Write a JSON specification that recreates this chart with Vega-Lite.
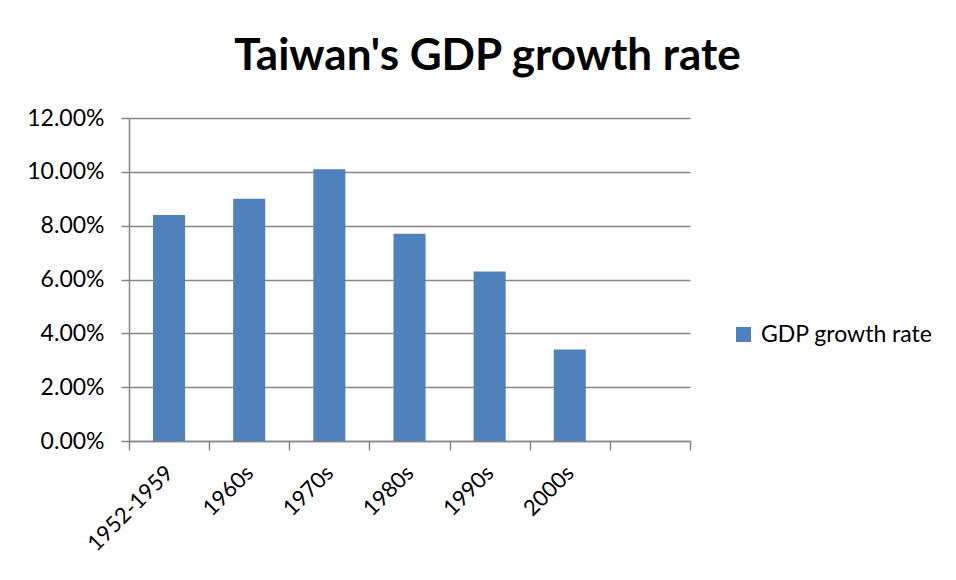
{
  "$schema": "https://vega.github.io/schema/vega-lite/v6.json",
  "width": 561,
  "height": 323,
  "autosize": "none",
  "padding": {"left": 129, "top": 118, "right": 266, "bottom": 139},
  "background": "white",
  "title": {
    "text": "Taiwan's GDP growth rate",
    "font": "Lato",
    "fontSize": 44,
    "fontWeight": "bold",
    "color": "black",
    "anchor": "middle",
    "frame": "group",
    "dx": 78,
    "offset": 28
  },
  "data": {
    "values": [
      {"period": "1952-1959", "rate": 0.084, "series": "GDP growth rate"},
      {"period": "1960s", "rate": 0.090, "series": "GDP growth rate"},
      {"period": "1970s", "rate": 0.101, "series": "GDP growth rate"},
      {"period": "1980s", "rate": 0.077, "series": "GDP growth rate"},
      {"period": "1990s", "rate": 0.063, "series": "GDP growth rate"},
      {"period": "2000s", "rate": 0.034, "series": "GDP growth rate"}
    ]
  },
  "mark": {"type": "bar", "width": {"band": 0.4}},
  "encoding": {
    "x": {
      "field": "period",
      "type": "nominal",
      "sort": null,
      "scale": {
        "domain": ["1952-1959", "1960s", "1970s", "1980s", "1990s", "2000s", " "],
        "paddingInner": 0,
        "paddingOuter": 0
      },
      "axis": {
        "title": null,
        "labelAngle": -45,
        "labelAlign": "right",
        "labelBaseline": "middle",
        "labelFont": "Lato",
        "labelFontSize": 22,
        "labelColor": "black",
        "labelPadding": 19,
        "tickBand": "extent",
        "tickSize": 9,
        "tickColor": "#868686",
        "tickWidth": 1.5,
        "domainColor": "#868686",
        "domainWidth": 1.5,
        "grid": false
      }
    },
    "y": {
      "field": "rate",
      "type": "quantitative",
      "scale": {"domain": [0, 0.12]},
      "axis": {
        "title": null,
        "format": ".2%",
        "values": [0, 0.02, 0.04, 0.06, 0.08, 0.10, 0.12],
        "labelFont": "Lato",
        "labelFontSize": 23,
        "labelColor": "black",
        "labelPadding": 17,
        "tickSize": 8,
        "tickColor": "#868686",
        "tickWidth": 1.5,
        "domainColor": "#868686",
        "domainWidth": 1.5,
        "grid": true,
        "gridColor": "#868686",
        "gridWidth": 1.5
      }
    },
    "color": {
      "field": "series",
      "type": "nominal",
      "scale": {"range": ["#4F81BD"]},
      "legend": {
        "title": null,
        "orient": "none",
        "legendX": 603,
        "legendY": 205,
        "symbolType": "square",
        "symbolSize": 225,
        "symbolStrokeWidth": 0,
        "labelFont": "Lato",
        "labelFontSize": 23,
        "labelLimit": 400,
        "labelColor": "black",
        "labelOffset": 6
      }
    }
  },
  "config": {"view": {"stroke": null}}
}
